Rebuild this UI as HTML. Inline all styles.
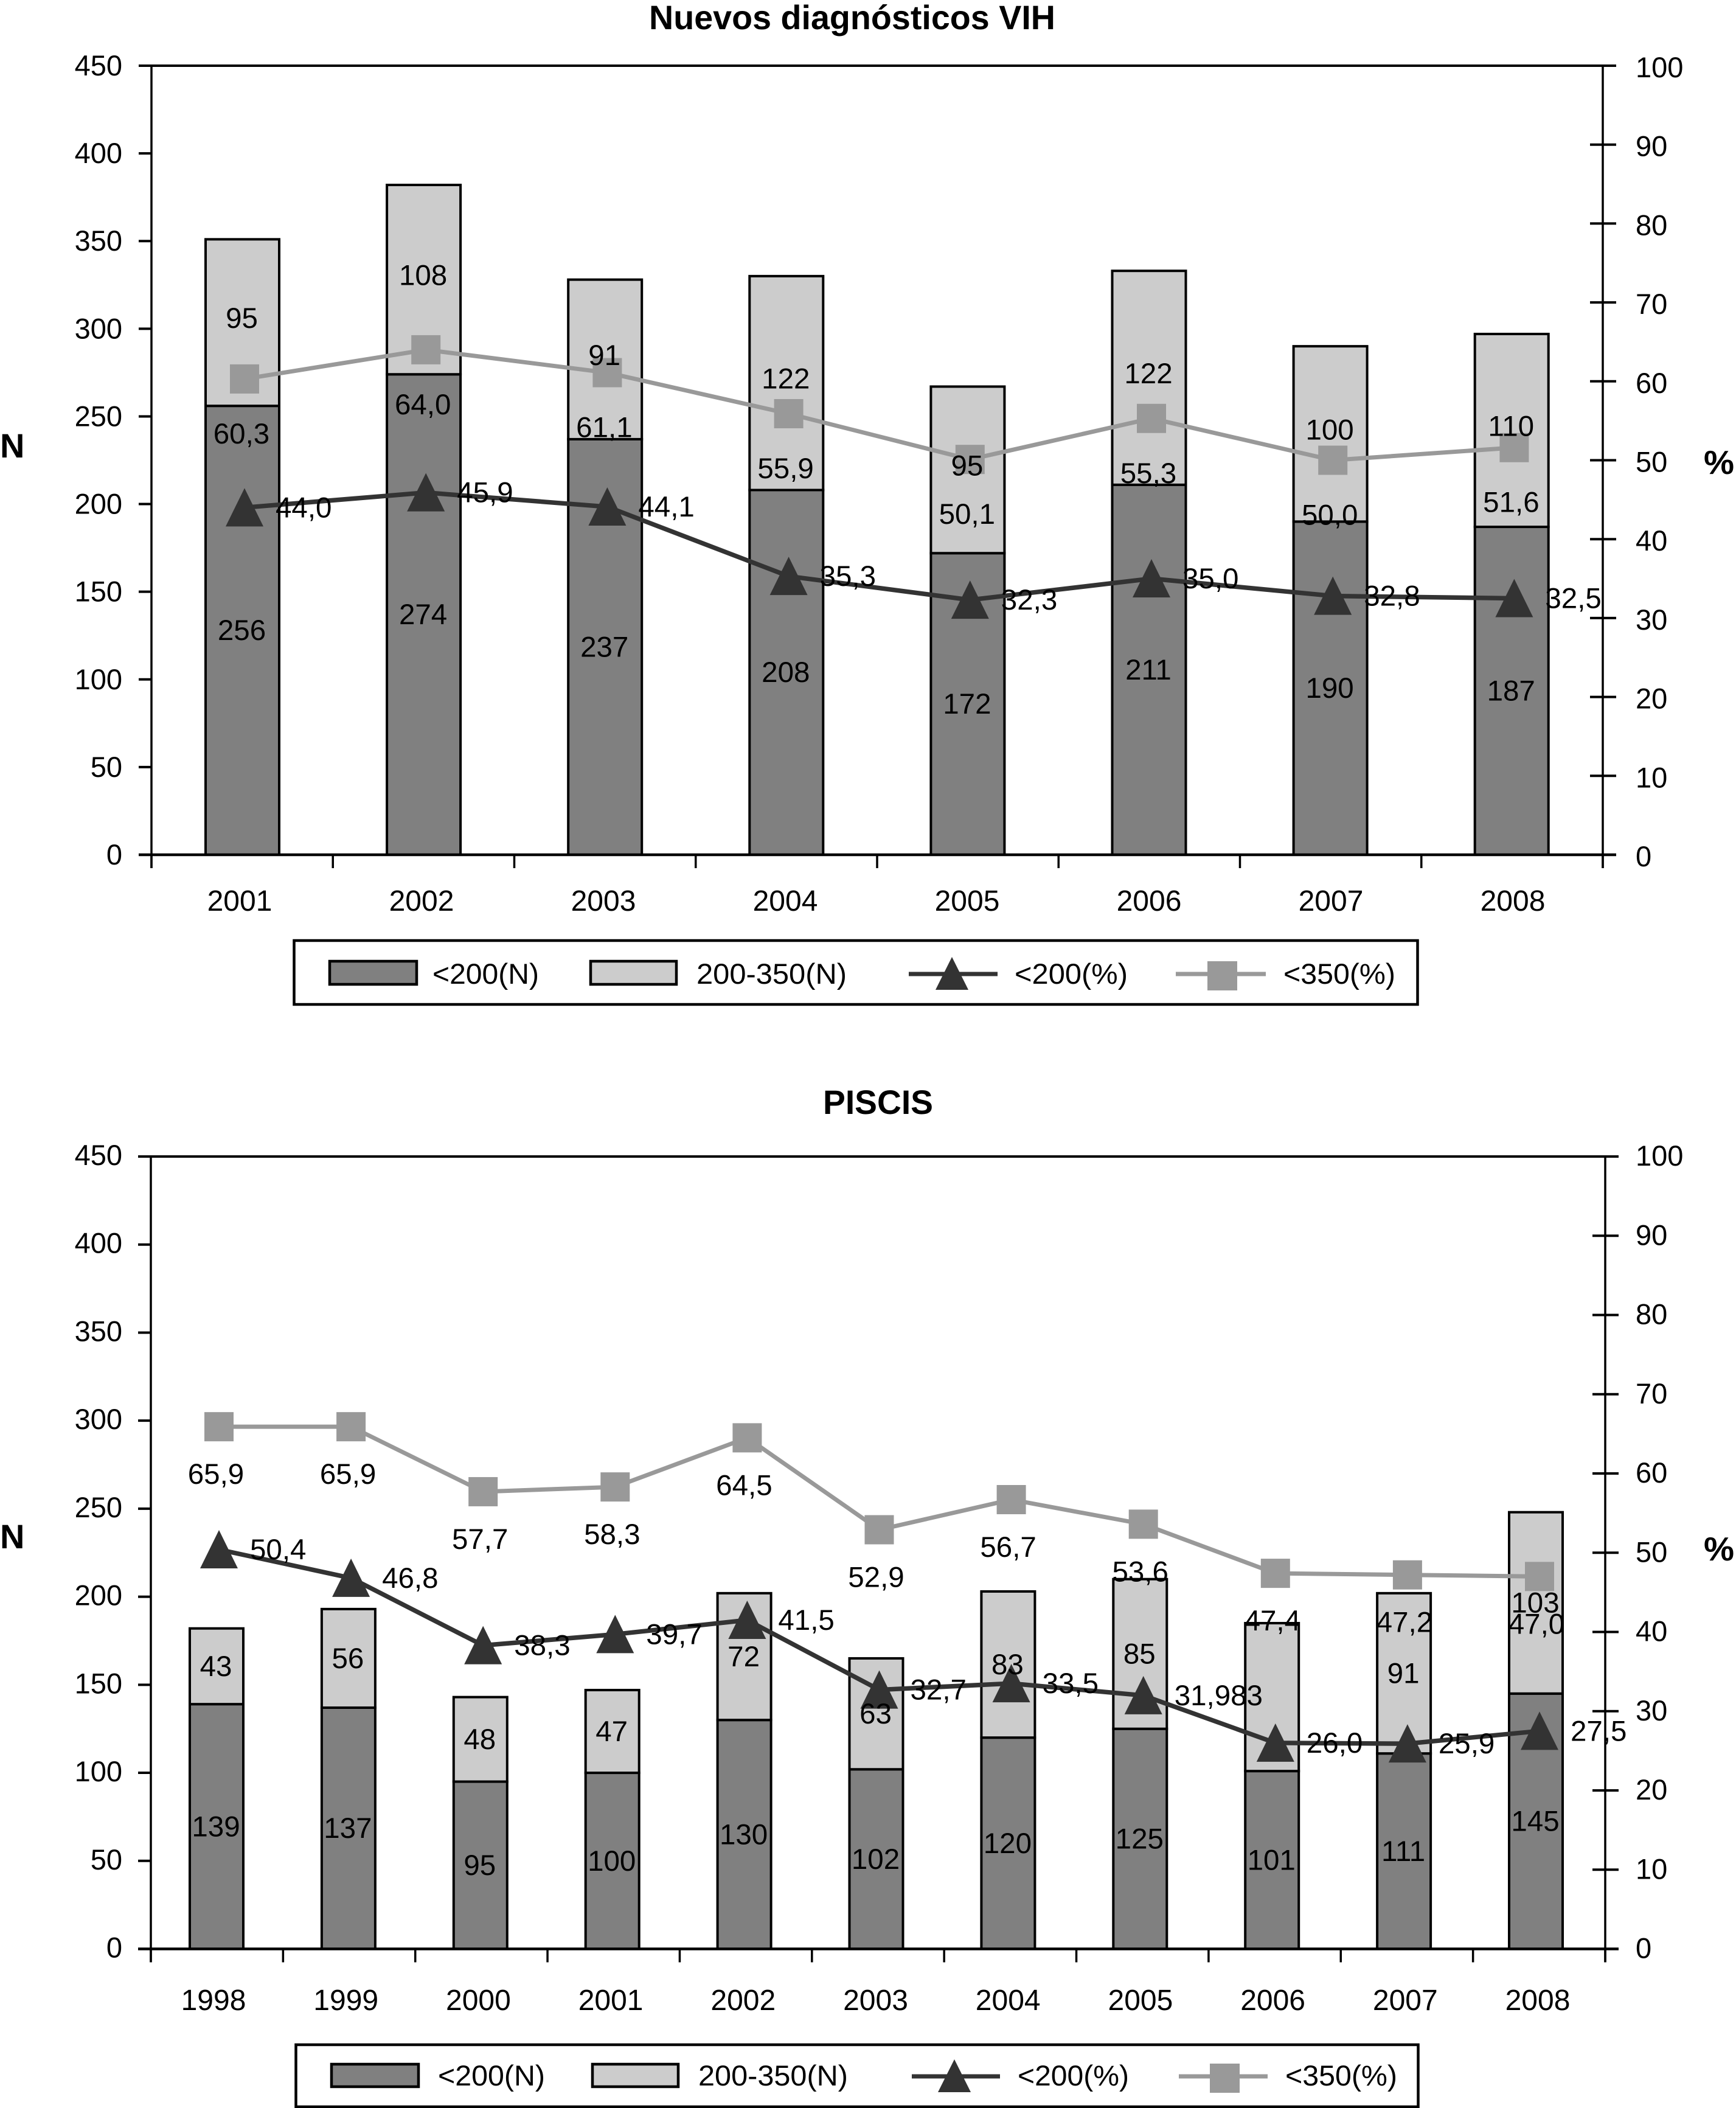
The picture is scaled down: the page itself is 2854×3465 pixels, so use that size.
<!DOCTYPE html>
<html lang="es">
<head>
<meta charset="utf-8">
<title>Nuevos diagnósticos VIH / PISCIS</title>
<style>
html,body{margin:0;padding:0;background:#fff;}
svg{display:block;}
text{font-family:"Liberation Sans",Arial,sans-serif;fill:#000;}
.b{font-weight:bold;}
</style>
</head>
<body>
<svg id="figure" xmlns="http://www.w3.org/2000/svg" width="2854" height="3465" viewBox="0 0 2854 3465">
  <rect x="0" y="0" width="2854" height="3465" fill="#fff"/>
  <g id="chart-vih"></g>
  <g id="chart-piscis"></g>

  <text class="b" x="1067" y="48" font-size="56" textLength="668" lengthAdjust="spacingAndGlyphs">Nuevos diagnósticos VIH</text>
  <text class="b" x="0" y="752" font-size="56">N</text>
  <text class="b" x="2801" y="779" font-size="55" textLength="50" lengthAdjust="spacingAndGlyphs">%</text>

  <text class="b" x="1353" y="1831" font-size="56" textLength="181" lengthAdjust="spacingAndGlyphs">PISCIS</text>
  <text class="b" x="0" y="2545" font-size="56">N</text>
  <text class="b" x="2801" y="2565" font-size="55" textLength="50" lengthAdjust="spacingAndGlyphs">%</text>

  <g>
    <rect x="483.5" y="1546" width="1847" height="105" fill="#fff" stroke="#000" stroke-width="4.5"/>
    <rect x="542" y="1580" width="143" height="38" fill="#808080" stroke="#000" stroke-width="4.5"/>
    <text x="711" y="1617" font-size="47" textLength="175" lengthAdjust="spacingAndGlyphs">&lt;200(N)</text>
    <rect x="971" y="1580" width="141" height="38" fill="#ccc" stroke="#000" stroke-width="4.5"/>
    <text x="1145" y="1617" font-size="47" textLength="247" lengthAdjust="spacingAndGlyphs">200-350(N)</text>
    <line x1="1494" y1="1601" x2="1640" y2="1601" stroke="#333" stroke-width="7"/>
    <polygon points="1565,1573 1592,1627 1538,1627" fill="#333"/>
    <text x="1668" y="1617" font-size="47" textLength="186" lengthAdjust="spacingAndGlyphs">&lt;200(%)</text>
    <line x1="1933" y1="1601" x2="2081" y2="1601" stroke="#999" stroke-width="7"/>
    <rect x="1985" y="1580" width="49" height="48" fill="#999"/>
    <text x="2110" y="1617" font-size="47" textLength="184" lengthAdjust="spacingAndGlyphs">&lt;350(%)</text>
  </g>

  <g>
    <rect x="486.5" y="3361" width="1845" height="102" fill="#fff" stroke="#000" stroke-width="4.5"/>
    <rect x="545" y="3393" width="143" height="37" fill="#808080" stroke="#000" stroke-width="4.5"/>
    <text x="720" y="3428" font-size="47" textLength="176" lengthAdjust="spacingAndGlyphs">&lt;200(N)</text>
    <rect x="974" y="3393" width="141" height="37" fill="#ccc" stroke="#000" stroke-width="4.5"/>
    <text x="1148" y="3428" font-size="47" textLength="246" lengthAdjust="spacingAndGlyphs">200-350(N)</text>
    <line x1="1499" y1="3413" x2="1644" y2="3413" stroke="#333" stroke-width="7"/>
    <polygon points="1569,3385 1596,3439 1542,3439" fill="#333"/>
    <text x="1673" y="3428" font-size="47" textLength="183" lengthAdjust="spacingAndGlyphs">&lt;200(%)</text>
    <line x1="1938" y1="3413" x2="2084" y2="3413" stroke="#999" stroke-width="7"/>
    <rect x="1989" y="3392" width="49" height="48" fill="#999"/>
    <text x="2113" y="3428" font-size="47" textLength="184" lengthAdjust="spacingAndGlyphs">&lt;350(%)</text>
  </g>
</svg>

<script>
// ---- Shared axis tick labels ----
const countTicks = [0, 50, 100, 150, 200, 250, 300, 350, 400, 450];
const pctTicks = [0, 10, 20, 30, 40, 50, 60, 70, 80, 90, 100];

// ---- Nuevos diagnósticos VIH ----
const vihYears = ['2001', '2002', '2003', '2004', '2005', '2006', '2007', '2008'];
const vihLow = [256, 274, 237, 208, 172, 211, 190, 187];
const vihMid = [95, 108, 91, 122, 95, 122, 100, 110];
const vihMidLabels = ['95', '108', '91', '122', '95', '122', '100', '110'];
const vihPctLow = [44.0, 45.9, 44.1, 35.3, 32.3, 35.0, 32.8, 32.5];
const vihPctHigh = [60.3, 64.0, 61.1, 55.9, 50.1, 55.3, 50.0, 51.6];

// ---- PISCIS ----
const piscisYears = ['1998', '1999', '2000', '2001', '2002', '2003', '2004', '2005', '2006', '2007', '2008'];
const piscisLow = [139, 137, 95, 100, 130, 102, 120, 125, 101, 111, 145];
const piscisMid = [43, 56, 48, 47, 72, 63, 83, 85, 84, 91, 103];
const piscisMidLabels = ['43', '56', '48', '47', '72', '63', '83', '85', '', '91', '103'];
const piscisPctLow = [50.4, 46.8, 38.3, 39.7, 41.5, 32.7, 33.5, 31.983, 26.0, 25.9, 27.5];
const piscisPctHigh = [65.9, 65.9, 57.7, 58.3, 64.5, 52.9, 56.7, 53.6, 47.4, 47.2, 47.0];

const NS = 'http://www.w3.org/2000/svg';

function mk(parent, tag, attrs, content) {
  const el = document.createElementNS(NS, tag);
  for (const k in attrs) el.setAttribute(k, attrs[k]);
  if (content !== undefined) el.textContent = content;
  parent.appendChild(el);
  return el;
}

function fmtPct(v) {
  const oneDecimal = Math.round(v * 10) / 10 === v;
  return (oneDecimal ? v.toFixed(1) : String(v)).replace('.', ',');
}

function drawChart(root, s, g) {
  const yN = v => g.y0 - (v / 450) * (g.y0 - g.yTop);
  const yP = v => g.y0 - (v / 100) * (g.y0 - g.yTop);
  const xBar = i => g.barX0 + g.barStep * i;
  const xMark = i => g.markX0 + g.markStep * i;
  const xLabel = i => g.catX0 + g.catStep * i;
  const n = s.years.length;
  const slot = (g.xRight - g.xLeft) / n;
  const FS = 47.5;
  let el;

  // bars
  for (let i = 0; i < n; i++) {
    const x = xBar(i) - g.barW / 2;
    const yLow = yN(s.low[i]);
    const yTop = yN(s.low[i] + s.mid[i]);
    el = mk(root, 'rect', {x: x, y: yLow, width: g.barW, height: g.y0 - yLow, fill: '#808080', stroke: '#000', 'stroke-width': 4});
    
    
    el = mk(root, 'rect', {x: x, y: yTop, width: g.barW, height: yLow - yTop, fill: '#ccc', stroke: '#000', 'stroke-width': 4});
    
    
  }

  // axes frame
  el = mk(root, 'line', {x1: g.xLeft - 21, y1: g.yTop, x2: g.xRight + 22, y2: g.yTop, stroke: '#000', 'stroke-width': 4});
  
  
  el = mk(root, 'line', {x1: g.xLeft - 21, y1: g.y0, x2: g.xRight + 22, y2: g.y0, stroke: '#000', 'stroke-width': 4.5});
  
  
  el = mk(root, 'line', {x1: g.xLeft, y1: g.yTop, x2: g.xLeft, y2: g.y0 + 22, stroke: '#000', 'stroke-width': 3.5});
  
  
  el = mk(root, 'line', {x1: g.xRight, y1: g.yTop, x2: g.xRight, y2: g.y0 + 22, stroke: '#000', 'stroke-width': 3.5});
  
  

  // left ticks
  countTicks.forEach(t => {
    const y = yN(t);
    el = mk(root, 'line', {x1: g.xLeft - 21, y1: y, x2: g.xLeft, y2: y, stroke: '#000', 'stroke-width': 4});
    
    
    el = mk(root, 'text', {x: 201, y: y + g.leftDy, 'font-size': 47, 'text-anchor': 'end'}, String(t));
    
    
  });

  // right ticks
  pctTicks.forEach(t => {
    const y = yP(t);
    el = mk(root, 'line', {x1: g.xRight - 21, y1: y, x2: g.xRight + 22, y2: y, stroke: '#000', 'stroke-width': 4});
    
    
    el = mk(root, 'text', {x: g.rightLabelX, y: y + g.rightDy, 'font-size': 47}, String(t));
    
    
  });

  // x ticks and category labels
  for (let i = 0; i <= n; i++) {
    const x = g.xLeft + slot * i;
    el = mk(root, 'line', {x1: x, y1: g.y0, x2: x, y2: g.y0 + 22, stroke: '#000', 'stroke-width': 3.5});
    
    
  }
  s.years.forEach((yr, i) => {
    el = mk(root, 'text', {x: xLabel(i), y: g.catBaseline, 'font-size': 48, 'text-anchor': 'middle'}, yr);
    
    
  });

  // lines
  const linePts = arr => arr.map((v, i) => xMark(i) + ',' + yP(v)).join(' ');
  el = mk(root, 'polyline', {points: linePts(s.pctHigh), fill: 'none', stroke: '#999', 'stroke-width': 7});
  
  
  el = mk(root, 'polyline', {points: linePts(s.pctLow), fill: 'none', stroke: '#333', 'stroke-width': 7.5});
  
  

  // markers
  s.pctHigh.forEach((v, i) => {
    el = mk(root, 'rect', {x: xMark(i) - 24, y: yP(v) - 24, width: 48, height: 48, fill: '#999'});
    
    
  });
  s.pctLow.forEach((v, i) => {
    const x = xMark(i), y = yP(v);
    el = mk(root, 'polygon', {points: x + ',' + (y - 32) + ' ' + (x + 31) + ',' + (y + 31) + ' ' + (x - 31) + ',' + (y + 31), fill: '#333'});
    
    
  });

  // value labels
  for (let i = 0; i < n; i++) {
    const cx = xBar(i) - 1;
    el = mk(root, 'text', {x: cx, y: yN(s.low[i] / 2) + 16, 'font-size': FS, 'text-anchor': 'middle'}, String(s.low[i]));
    
    
    if (s.midLabels[i] !== '') {
      el = mk(root, 'text', {x: cx, y: yN(s.low[i] + s.mid[i] / 2) + g.midDy, 'font-size': FS, 'text-anchor': 'middle'}, s.midLabels[i]);
      
      
    }
    el = mk(root, 'text', {x: xMark(i) - 5, y: yP(s.pctHigh[i]) + g.highDy + 16, 'font-size': FS, 'text-anchor': 'middle'}, fmtPct(s.pctHigh[i]));
    
    
    el = mk(root, 'text', {x: xMark(i) + 51, y: yP(s.pctLow[i]) + 16, 'font-size': FS}, fmtPct(s.pctLow[i]));
    
    
  }
}

drawChart(document.getElementById('chart-vih'),
  {years: vihYears, low: vihLow, mid: vihMid, midLabels: vihMidLabels, pctLow: vihPctLow, pctHigh: vihPctHigh},
  {xLeft: 249, xRight: 2635, yTop: 108, y0: 1405, barX0: 398.5, barStep: 298.1, barW: 121,
   markX0: 402, markStep: 298.2, catX0: 394, catStep: 299, catBaseline: 1497,
   leftDy: 16, rightDy: 19, rightLabelX: 2689, midDy: 9, highDy: 90});

drawChart(document.getElementById('chart-piscis'),
  {years: piscisYears, low: piscisLow, mid: piscisMid, midLabels: piscisMidLabels, pctLow: piscisPctLow, pctHigh: piscisPctHigh},
  {xLeft: 248, xRight: 2639, yTop: 1901, y0: 3203.5, barX0: 356, barStep: 216.9, barW: 88,
   markX0: 360, markStep: 217.1, catX0: 351, catStep: 217.7, catBaseline: 3304,
   leftDy: 14, rightDy: 15, rightLabelX: 2689, midDy: 16, highDy: 78});
</script>
</body>
</html>
